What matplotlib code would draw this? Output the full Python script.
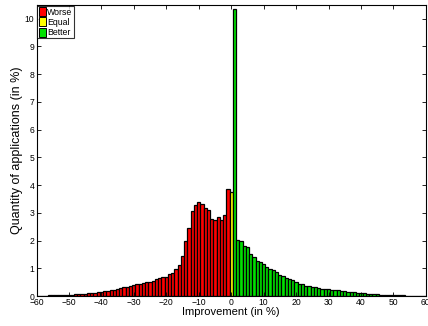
import matplotlib
matplotlib.use("Agg")
import matplotlib.pyplot as plt
import numpy as np
from matplotlib.patches import Patch

# Histogram bins (1 % wide), values in % of applications
worse_x = list(range(-60, 0))
worse_y = [0.01, 0.01, 0.01, 0.01, 0.02, 0.02, 0.03, 0.03, 0.04, 0.04,
           0.05, 0.05, 0.06, 0.07, 0.07, 0.09, 0.10, 0.11, 0.12, 0.14,
           0.16, 0.17, 0.19, 0.21, 0.23, 0.26, 0.28, 0.32, 0.34, 0.37,
           0.40, 0.42, 0.45, 0.47, 0.49, 0.50, 0.54, 0.60, 0.65, 0.67,
           0.67, 0.78, 0.82, 0.97, 1.12, 1.43, 2.00, 2.47, 3.05, 3.30,
           3.38, 3.32, 3.16, 3.10, 2.79, 2.73, 2.86, 2.74, 2.92, 3.87]

equal_x = [0]
equal_y = [3.75]

better_x = list(range(1, 61))
better_y = [10.35, 2.02, 1.98, 1.80, 1.75, 1.52, 1.41, 1.28, 1.22, 1.14,
            1.06, 0.97, 0.93, 0.85, 0.74, 0.71, 0.65, 0.60, 0.57, 0.49,
            0.45, 0.42, 0.37, 0.37, 0.34, 0.31, 0.30, 0.26, 0.26, 0.24,
            0.23, 0.22, 0.20, 0.19, 0.17, 0.16, 0.15, 0.13, 0.12, 0.11,
            0.10, 0.09, 0.08, 0.07, 0.06, 0.05, 0.05, 0.04, 0.04, 0.03,
            0.03, 0.02, 0.02, 0.01, 0.01, 0.01, 0.01, 0.01, 0.01, 0.01]

legend_labels = ["Worse", "Equal", "Better"]
colors = ["#ff0000", "#ffff00", "#00e000"]

plt.rcParams["font.family"] = ["Liberation Sans", "DejaVu Sans"]

fig = plt.figure(figsize=(4.28, 3.26), dpi=100)
ax = fig.add_axes([0.0853, 0.092, 0.9097, 0.893])

bar_kw = dict(width=1.0, edgecolor="black", linewidth=0.9, align="center")
ax.bar(worse_x, worse_y, color=colors[0], **bar_kw)
ax.bar(equal_x, equal_y, color=colors[1], **bar_kw)
ax.bar(better_x, better_y, color=colors[2], **bar_kw)

ax.set_xlim(-60, 60)
ax.set_ylim(0, 10.5)
ax.set_xticks(np.arange(-60, 61, 10))
ax.set_yticks(np.arange(0, 11, 1))
ax.tick_params(direction="in", top=True, right=True, length=3, width=0.6,
               labelsize=6.2, pad=1.5)
for s in ax.spines.values():
    s.set_linewidth(0.8)

ax.set_xlabel("Improvement (in %)", fontsize=8, labelpad=0)
ax.set_ylabel("Quantity of applications (in %)", fontsize=9, labelpad=1)

handles = [Patch(facecolor=c, edgecolor="black", linewidth=0.7) for c in colors]
leg = ax.legend(handles, legend_labels, loc="upper left", fontsize=6.3,
                frameon=True, fancybox=False, handlelength=0.8,
                handleheight=1.2, handletextpad=0.2, borderpad=0.15,
                labelspacing=0.1, borderaxespad=0.1)
leg.get_frame().set_edgecolor("black")
leg.get_frame().set_linewidth(0.8)

fig.savefig("out.png", dpi=100)
